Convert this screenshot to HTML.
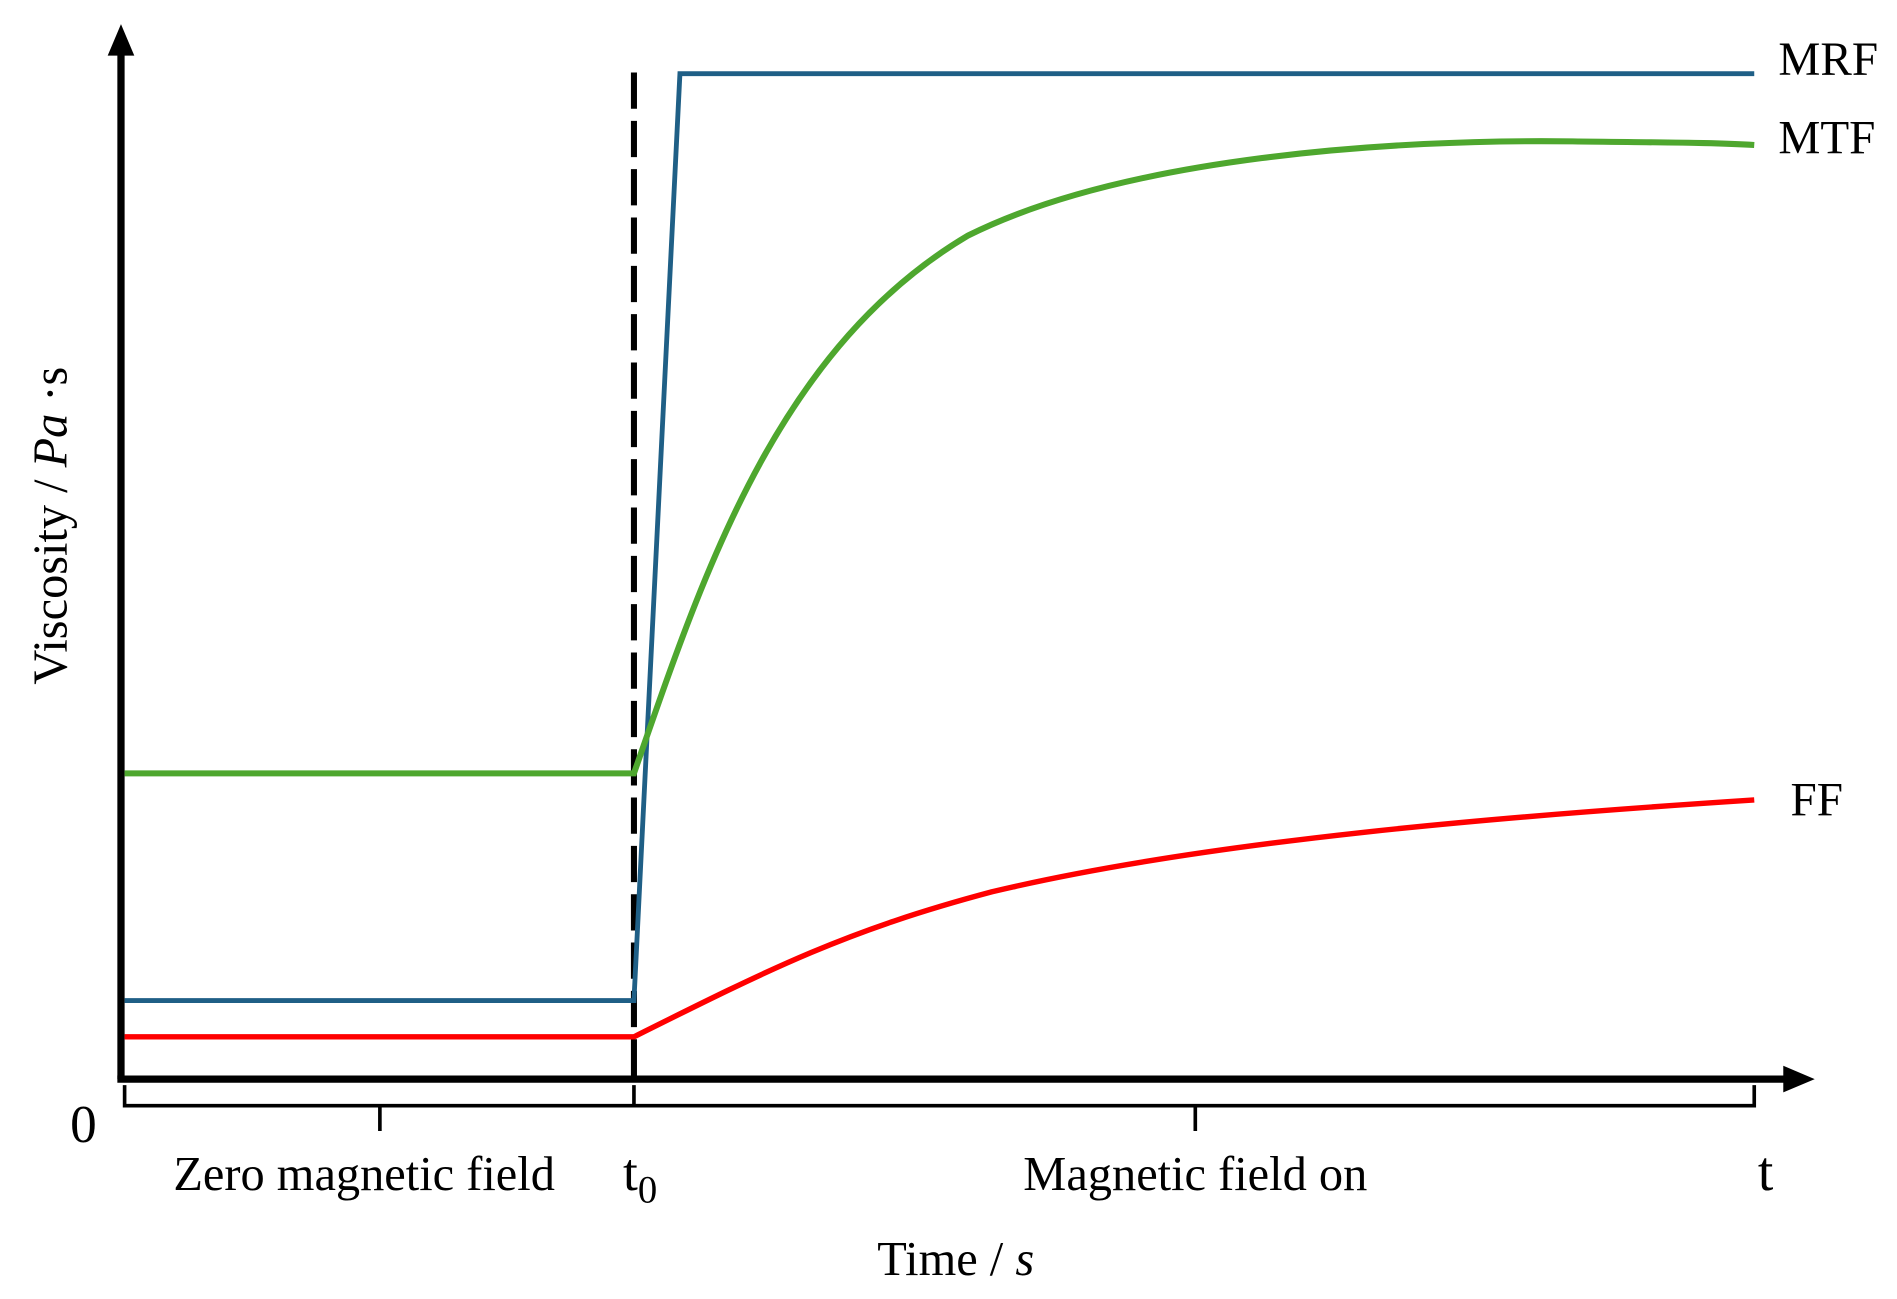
<!DOCTYPE html>
<html><head><style>html,body{margin:0;padding:0;background:#fff}svg{display:block}</style></head><body>
<svg width="1897" height="1299" viewBox="0 0 1568 1075" preserveAspectRatio="none" xmlns="http://www.w3.org/2000/svg" font-family="Liberation Serif, serif">
<rect width="1568" height="1075" fill="#fff"/>
<line x1="100" y1="893" x2="100" y2="40" stroke="#000" stroke-width="6"/>
<polygon points="100,20 89,46 111,46" fill="#000"/>
<line x1="97" y1="893" x2="1480" y2="893" stroke="#000" stroke-width="6"/>
<polygon points="1500,893 1474,882 1474,904" fill="#000"/>
<line x1="524" y1="60" x2="524" y2="893" stroke="#000" stroke-width="5" stroke-dasharray="30,10"/>
<polyline points="103,828 524,828 562,61 1450,61" fill="none" stroke="#1f5f86" stroke-width="4"/>
<path d="M103,640 L524,640 C580,480 640,290 800,195 C930,130 1150,115 1300,117 C1380,118 1420,118 1450,120" fill="none" stroke="#4ea72e" stroke-width="5"/>
<path d="M103,858 L524,858 C640,800 700,770 820,738 C1000,695 1250,675 1450,662" fill="none" stroke="#ff0000" stroke-width="4.5"/>
<path d="M103,898 L103,915 L1450,915 L1450,898 M524,898 L524,915 M314,915 L314,936 M988,915 L988,936" fill="none" stroke="#000" stroke-width="3"/>
<text x="1470" y="62" font-size="39">MRF</text>
<text x="1470" y="127" font-size="39">MTF</text>
<text x="1480" y="675" font-size="39">FF</text>
<text x="58" y="945" font-size="44">0</text>
<text x="301" y="985" font-size="40" text-anchor="middle">Zero magnetic field</text>
<text x="515" y="985" font-size="44">t<tspan font-size="32" dy="10">0</tspan></text>
<text x="988" y="985" font-size="40" text-anchor="middle">Magnetic field on</text>
<text x="1453" y="985" font-size="46">t</text>
<text x="790" y="1055" font-size="40" text-anchor="middle">Time / <tspan font-style="italic">s</tspan></text>
<text transform="translate(55,435) rotate(-90)" font-size="40" text-anchor="middle">Viscosity / <tspan font-style="italic">Pa</tspan> ·s</text>
</svg>
</body></html>
